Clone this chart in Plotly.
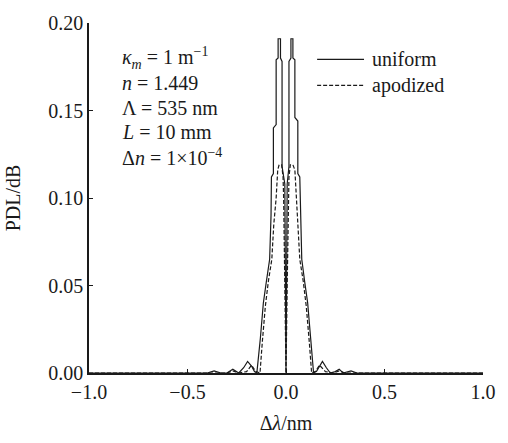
import plotly.graph_objects as go

# uniform grating PDL spectrum
uni_x = [-1.0, -0.40, -0.365, -0.33, -0.30, -0.27, -0.24, -0.215, -0.195, -0.175, -0.16,
         -0.148, -0.13, -0.115, -0.10, -0.083, -0.076, -0.074, -0.064, -0.064, -0.050, -0.050,
         -0.040, -0.040, -0.028, -0.028, -0.020, -0.020, -0.006, -0.003, 0.0,
         0.003, 0.006, 0.015, 0.015, 0.025, 0.025, 0.035, 0.035, 0.045, 0.045, 0.060, 0.060,
         0.070, 0.073, 0.080, 0.095, 0.110, 0.125, 0.140, 0.155, 0.170, 0.185, 0.205, 0.225,
         0.25, 0.27, 0.29, 0.33, 0.36, 1.0]
uni_y = [0.0, 0.0, 0.0012, 0.0, 0.0, 0.0022, 0.0, 0.003, 0.0066, 0.004, 0.0008,
         0.0, 0.020, 0.040, 0.052, 0.065, 0.090, 0.112, 0.114, 0.140, 0.142, 0.179,
         0.180, 0.191, 0.191, 0.180, 0.178, 0.118, 0.108, 0.050, 0.0,
         0.050, 0.108, 0.118, 0.178, 0.180, 0.191, 0.191, 0.180, 0.179, 0.146, 0.144, 0.114,
         0.112, 0.090, 0.065, 0.052, 0.040, 0.020, 0.0, 0.001, 0.004, 0.0066, 0.003, 0.0,
         0.0008, 0.0022, 0.0, 0.0012, 0.0, 0.0]

# apodized grating PDL spectrum
apo_x = [-1.0, -0.35, -0.30, -0.27, -0.24, -0.20, -0.175, -0.155, -0.132, -0.12, -0.105,
         -0.09, -0.072, -0.062, -0.050, -0.042, -0.035, -0.022, -0.015, -0.012, -0.006, 0.0,
         0.006, 0.012, 0.015, 0.022, 0.035, 0.045, 0.052, 0.062, 0.070, 0.088, 0.103, 0.118,
         0.130, 0.150, 0.170, 0.200, 0.24, 0.27, 0.30, 1.0]
apo_y = [0.0, 0.0, 0.0, 0.0012, 0.0, 0.0008, 0.0045, 0.001, 0.0, 0.018, 0.038,
         0.052, 0.065, 0.085, 0.100, 0.116, 0.119, 0.119, 0.112, 0.100, 0.050, 0.0,
         0.050, 0.100, 0.112, 0.119, 0.119, 0.116, 0.100, 0.085, 0.065, 0.052, 0.038, 0.018,
         0.0, 0.001, 0.0045, 0.0008, 0.0, 0.0012, 0.0, 0.0]

y_ticks = [0.0, 0.05, 0.10, 0.15, 0.20]
x_ticks = [-1.0, -0.5, 0.0, 0.5, 1.0]

series_names = ["uniform", "apodized"]
series_dash = ["solid", "4px,2px"]

params = [
    "<i>κ</i><sub><i>m</i></sub> = 1 m<sup>−1</sup>",
    "<i>n</i> = 1.449",
    "Λ = 535 nm",
    "<i>L</i> = 10 mm",
    "Δ<i>n</i> = 1×10<sup>−4</sup>",
]

FONT = "Liberation Serif, Times New Roman, serif"
INK = "#1a1a1a"
FS = 20

fig = go.Figure()
fig.add_trace(go.Scatter(x=uni_x, y=uni_y, mode="lines", name=series_names[0],
                         line=dict(color=INK, width=1.2, dash=series_dash[0]),
                         showlegend=False))
fig.add_trace(go.Scatter(x=apo_x, y=apo_y, mode="lines", name=series_names[1],
                         line=dict(color=INK, width=1.2, dash=series_dash[1]),
                         showlegend=False))

# parameter block
for i, t in enumerate(params):
    fig.add_annotation(x=0.078, y=0.899 - i * 0.0705, xref="paper", yref="paper",
                       text=t, showarrow=False, xanchor="left", yanchor="middle",
                       align="left", font=dict(family=FONT, size=FS, color=INK))

# legend drawn as line samples + labels
for i, (nm, ds) in enumerate(zip(series_names, series_dash)):
    yy = 0.896 - i * 0.074
    fig.add_shape(type="line", xref="paper", yref="paper", x0=0.579, x1=0.698,
                  y0=yy, y1=yy, line=dict(color=INK, width=1.2, dash=ds))
    fig.add_annotation(x=0.713, y=yy, xref="paper", yref="paper", text=nm,
                       showarrow=False, xanchor="left", yanchor="middle",
                       font=dict(family=FONT, size=FS, color=INK))

fig.update_layout(
    width=508, height=443,
    margin=dict(l=88, r=16, t=14, b=64),
    paper_bgcolor="white", plot_bgcolor="white",
    font=dict(family=FONT, size=FS, color=INK),
    showlegend=False,
    xaxis=dict(range=[-1.0, 1.0], tickvals=x_ticks, tickformat=".1f",
               showline=True, linecolor=INK, linewidth=1.5, ticks="inside",
               ticklen=4, tickcolor=INK, showgrid=False, zeroline=False,
               title=dict(text="Δ<i>λ</i>/nm", standoff=14, font=dict(size=FS))),
    yaxis=dict(range=[0.0, 0.20], tickvals=y_ticks, tickformat=".2f",
               showline=True, linecolor=INK, linewidth=1.5, ticks="inside",
               ticklen=4, tickcolor=INK, showgrid=False, zeroline=False,
               title=dict(text="PDL/dB", standoff=22, font=dict(size=FS))),
)

fig.write_html("out.html")
